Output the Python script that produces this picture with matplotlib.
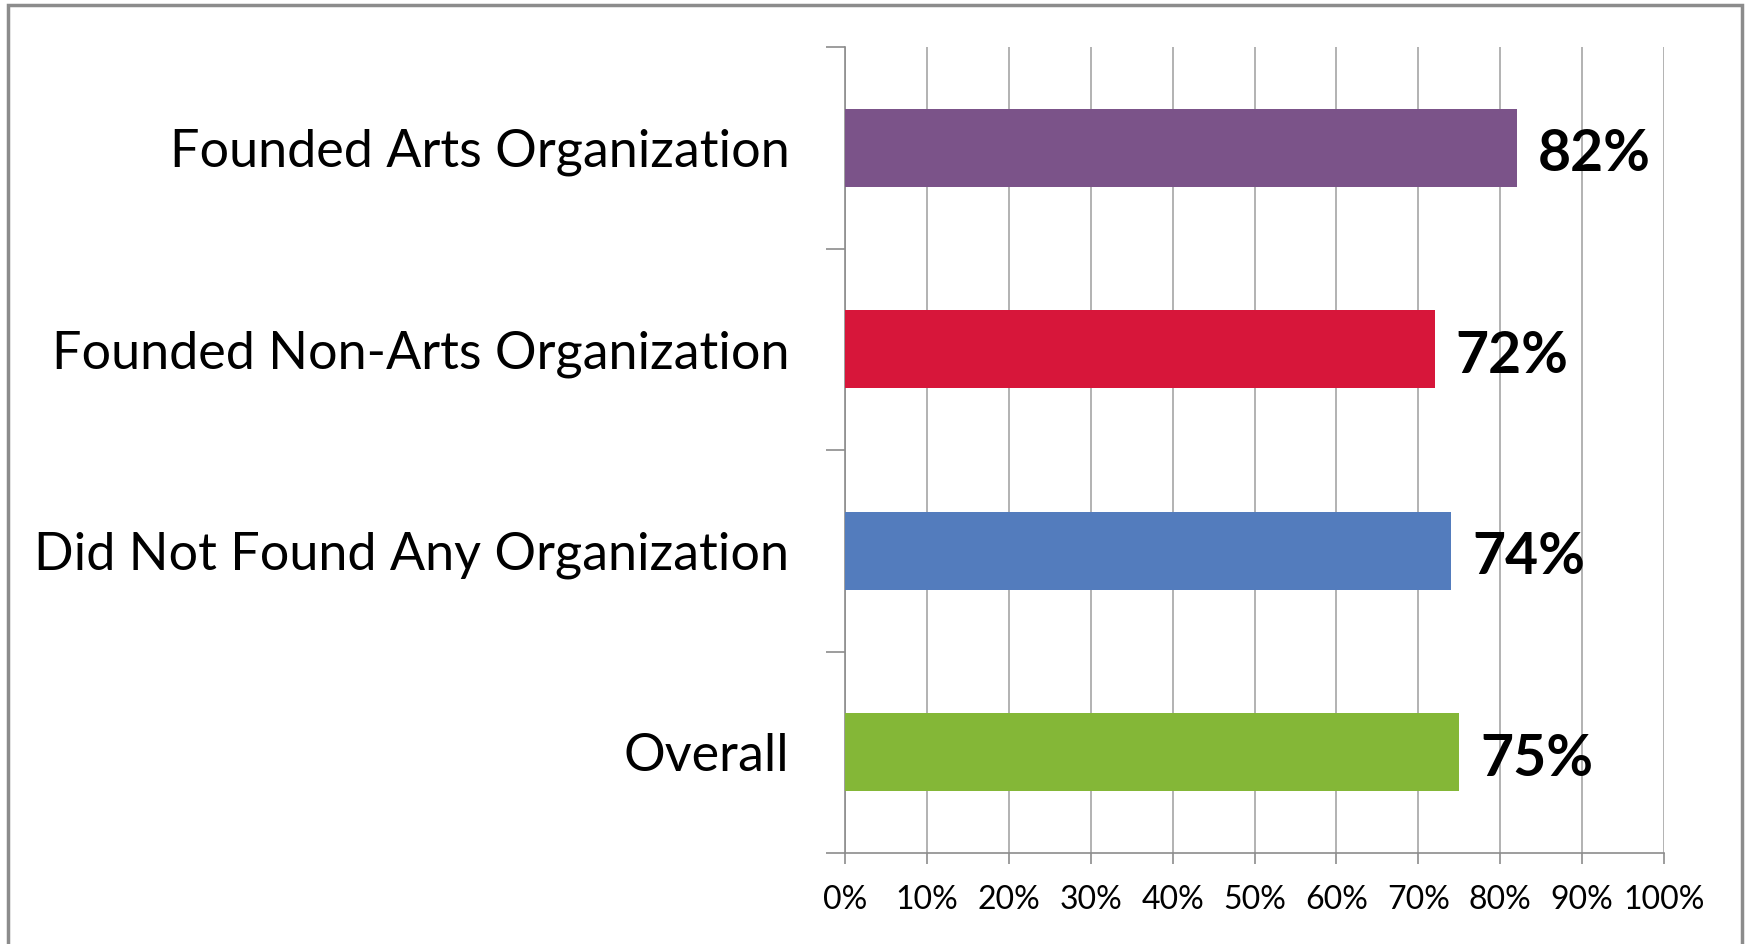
import matplotlib.pyplot as plt
from matplotlib.patches import Rectangle
from matplotlib.ticker import MultipleLocator, FixedLocator, PercentFormatter

# Data
categories = ["Founded Arts Organization", "Founded Non-Arts Organization",
              "Did Not Found Any Organization", "Overall"]
values = [82, 72, 74, 75]
colors = ["#7B5389", "#D7163A", "#537CBD", "#84B737"]
value_labels = ["82%", "72%", "74%", "75%"]

plt.rcParams['font.family'] = ['Lato', 'DejaVu Sans']

fig = plt.figure(figsize=(17.46, 9.44), dpi=100)
ax = fig.add_axes([845 / 1746, 91 / 944, 819 / 1746, 806 / 944])

ypos = list(range(len(categories)))[::-1]
ax.barh(ypos, values, height=0.385, color=colors, zorder=3)

for y, v, lab in zip(ypos, values, value_labels):
    ax.annotate(lab, (v, y), xytext=(15, -5), textcoords="offset points",
                ha="left", va="center", fontsize=41, fontweight="bold", zorder=4)

ax.set_xlim(0, 100)
ax.set_ylim(-0.5, len(categories) - 0.5)
ax.xaxis.set_major_locator(MultipleLocator(10))
ax.xaxis.set_major_formatter(PercentFormatter(decimals=0))

# category labels between the boundary ticks
ax.yaxis.set_major_locator(FixedLocator([i - 0.5 for i in range(len(categories) + 1)]))
ax.yaxis.set_major_formatter(plt.NullFormatter())
ax.yaxis.set_minor_locator(FixedLocator(ypos))
ax.set_yticklabels(categories, minor=True)
ax.tick_params(axis="y", which="minor", length=0, pad=40, labelsize=37.5)
ax.tick_params(axis="y", which="major", length=14, width=1.2, color="#8C8C8C")
ax.tick_params(axis="x", length=8, width=1.2, color="#8C8C8C", pad=15, labelsize=23)
for t in ax.get_xticklabels():
    t.set_fontfamily(["Liberation Sans Narrow", "Lato", "DejaVu Sans"])

ax.grid(axis="x", color="#A6A6A6", linewidth=1.2, zorder=0)
for s in ["top", "right"]:
    ax.spines[s].set_visible(False)
for s in ["left", "bottom"]:
    ax.spines[s].set_color("#8C8C8C")
    ax.spines[s].set_linewidth(1.2)

# outer chart border
fig.patches.append(Rectangle((8 / 1746, -0.05), 1734 / 1746, 1.05 - 5 / 944,
                             transform=fig.transFigure, fill=False,
                             edgecolor="#8C8C8C", linewidth=2.5))

fig.savefig("out.png", dpi=100)
